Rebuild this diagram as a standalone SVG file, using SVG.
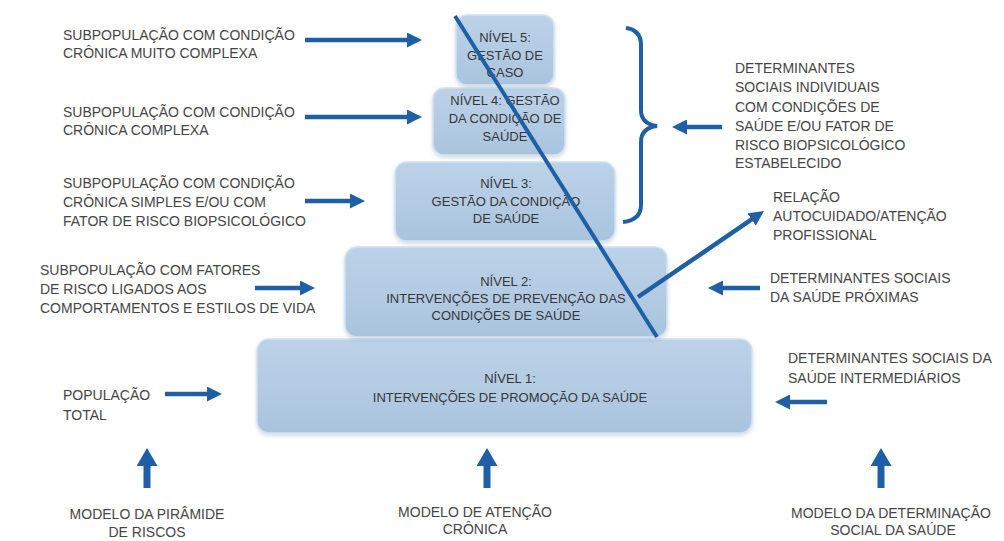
<svg xmlns="http://www.w3.org/2000/svg" width="1004" height="541" viewBox="0 0 1004 541">
<style>
.t{font-family:"Liberation Sans",Arial,sans-serif;font-size:14px;fill:#454545}
.b{font-family:"Liberation Sans",Arial,sans-serif;font-size:13px;fill:#363636;text-anchor:middle}
.c{text-anchor:middle}
.box{fill:url(#g);stroke:#d3e2f0;stroke-width:1.5;filter:url(#sh)}
.ar{stroke:#1f5fa6;stroke-width:4.5;fill:none;marker-end:url(#ah)}
.up{stroke:#1f5fa6;stroke-width:7;fill:none;marker-end:url(#uh)}
.ln{stroke:#1f5fa6;stroke-width:4;fill:none}
</style>
<defs>
<linearGradient id="g" x1="0" y1="0" x2="0" y2="1">
<stop offset="0" stop-color="#bcd2e8"/>
<stop offset="1" stop-color="#aac4de"/>
</linearGradient>
<filter id="sh" x="-10%" y="-10%" width="120%" height="130%">
<feDropShadow dx="0" dy="2" stdDeviation="2" flood-color="#7f97ad" flood-opacity="0.35"/>
</filter>
<marker id="ah" markerUnits="userSpaceOnUse" markerWidth="15" markerHeight="15" refX="4" refY="7.5" orient="auto">
<path d="M0,0 L15,7.5 L0,15 z" fill="#1f5fa6"/>
</marker>
<marker id="uh" markerUnits="userSpaceOnUse" markerWidth="18" markerHeight="21" refX="4" refY="10.5" orient="auto">
<path d="M0,0 L18,10.5 L0,21 z" fill="#1f5fa6"/>
</marker>
</defs>
<rect width="1004" height="541" fill="#ffffff"/>

<g id="nivel1">
<rect class="box" x="257" y="339" width="495" height="94" rx="12"/>
<text class="b" x="510" y="383">NÍVEL 1:</text>
<text class="b" x="510" y="402">INTERVENÇÕES DE PROMOÇÃO DA SAÚDE</text>
</g>
<g id="nivel2">
<rect class="box" x="345" y="247" width="322" height="90" rx="12"/>
<text class="b" x="506" y="286">NÍVEL 2:</text>
<text class="b" x="506" y="303">INTERVENÇÕES DE PREVENÇÃO DAS</text>
<text class="b" x="506" y="320">CONDIÇÕES DE SAÚDE</text>
</g>
<g id="nivel3">
<rect class="box" x="395" y="162" width="220" height="79" rx="12"/>
<text class="b" x="506" y="188">NÍVEL 3:</text>
<text class="b" x="506" y="206">GESTÃO DA CONDIÇÃO</text>
<text class="b" x="506" y="223">DE SAÚDE</text>
</g>
<g id="nivel4">
<rect class="box" x="433" y="88" width="132" height="67" rx="11"/>
<text class="b" x="505" y="105">NÍVEL 4: GESTÃO</text>
<text class="b" x="505" y="123">DA CONDIÇÃO DE</text>
<text class="b" x="505" y="141">SAÚDE</text>
</g>
<g id="nivel5">
<rect class="box" x="456" y="15" width="98" height="70" rx="11"/>
<text class="b" x="505" y="42">NÍVEL 5:</text>
<text class="b" x="505" y="60">GESTÃO DE</text>
<text class="b" x="505" y="77">CASO</text>
</g>

<g id="sub-muito-complexa">
<text class="t" x="63" y="40">SUBPOPULAÇÃO COM CONDIÇÃO</text>
<text class="t" x="63" y="58">CRÔNICA MUITO COMPLEXA</text>
</g>
<g id="sub-complexa">
<text class="t" x="63" y="117">SUBPOPULAÇÃO COM CONDIÇÃO</text>
<text class="t" x="63" y="135">CRÔNICA COMPLEXA</text>
</g>
<g id="sub-simples">
<text class="t" x="63" y="188">SUBPOPULAÇÃO COM CONDIÇÃO</text>
<text class="t" x="63" y="207">CRÔNICA SIMPLES E/OU COM</text>
<text class="t" x="63" y="226">FATOR DE RISCO BIOPSICOLÓGICO</text>
</g>
<g id="sub-fatores">
<text class="t" x="40" y="275">SUBPOPULAÇÃO COM FATORES</text>
<text class="t" x="40" y="294">DE RISCO LIGADOS AOS</text>
<text class="t" x="40" y="313">COMPORTAMENTOS E ESTILOS DE VIDA</text>
</g>
<g id="populacao-total">
<text class="t" x="63" y="400">POPULAÇÃO</text>
<text class="t" x="63" y="420">TOTAL</text>
</g>
<g id="modelo-piramide">
<text class="t c" x="147" y="519">MODELO DA PIRÂMIDE</text>
<text class="t c" x="147" y="537">DE RISCOS</text>
</g>
<g id="modelo-atencao">
<text class="t c" x="475" y="517">MODELO DE ATENÇÃO</text>
<text class="t c" x="475" y="534">CRÔNICA</text>
</g>
<g id="modelo-determinacao">
<text class="t c" x="891" y="518">MODELO DA DETERMINAÇÃO</text>
<text class="t c" x="893" y="535">SOCIAL DA SAÚDE</text>
</g>
<g id="det-individuais">
<text class="t" x="735" y="73">DETERMINANTES</text>
<text class="t" x="735" y="92">SOCIAIS INDIVIDUAIS</text>
<text class="t" x="735" y="112">COM CONDIÇÕES DE</text>
<text class="t" x="735" y="131">SAÚDE E/OU FATOR DE</text>
<text class="t" x="735" y="150">RISCO BIOPSICOLÓGICO</text>
<text class="t" x="735" y="168">ESTABELECIDO</text>
</g>
<g id="relacao">
<text class="t" x="773" y="202">RELAÇÃO</text>
<text class="t" x="773" y="221">AUTOCUIDADO/ATENÇÃO</text>
<text class="t" x="773" y="240">PROFISSIONAL</text>
</g>
<g id="det-proximas">
<text class="t" x="770" y="283">DETERMINANTES SOCIAIS</text>
<text class="t" x="770" y="302">DA SAÚDE PRÓXIMAS</text>
</g>
<g id="det-intermediarios">
<text class="t" x="788" y="363">DETERMINANTES SOCIAIS DA</text>
<text class="t" x="788" y="383">SAÚDE INTERMEDIÁRIOS</text>
</g>

<g id="connectors">
<line class="ar" x1="305" y1="40" x2="411" y2="40"/>
<line class="ar" x1="305" y1="117" x2="411" y2="117"/>
<line class="ar" x1="305" y1="201" x2="354" y2="201"/>
<line class="ar" x1="255" y1="288" x2="304" y2="288"/>
<line class="ar" x1="165" y1="394" x2="211" y2="394"/>
<line class="ar" x1="722" y1="127" x2="683" y2="127"/>
<line class="ar" x1="760" y1="288" x2="719" y2="288"/>
<line class="ar" x1="827" y1="402" x2="786" y2="402"/>
<line class="up" x1="147" y1="488" x2="147" y2="462"/>
<line class="up" x1="487" y1="488" x2="487" y2="462"/>
<line class="up" x1="881" y1="488" x2="881" y2="462"/>
<path class="ln" d="M626,28 Q641,30 641,45 L641,110 Q641,124 657,126 Q641,128 641,142 L641,205 Q641,220 623,222"/>
<line class="ln" x1="455" y1="16" x2="657" y2="337"/>
<line class="ar" x1="638" y1="297" x2="754.9" y2="217.2"/>
</g>
</svg>
